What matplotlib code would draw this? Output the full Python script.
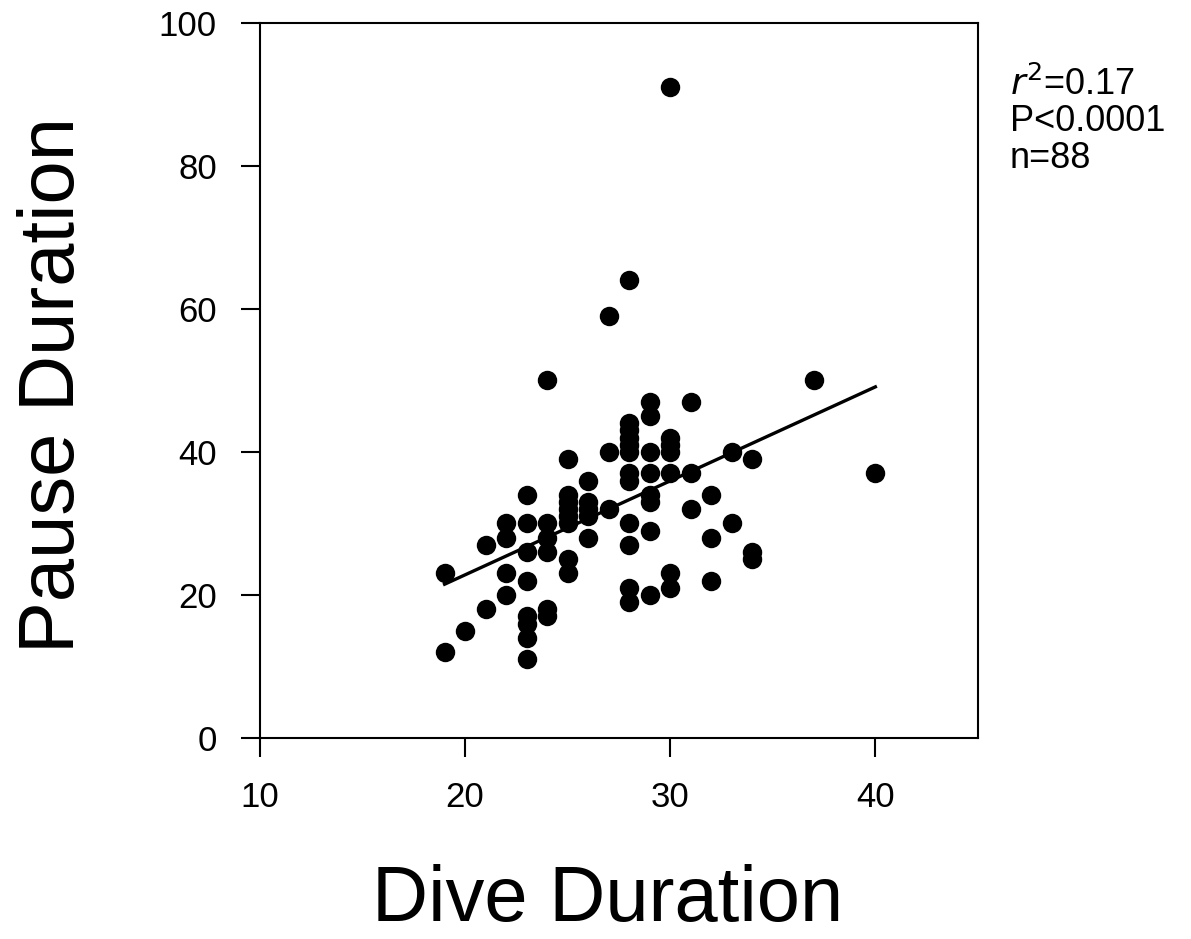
import numpy as np
import matplotlib
matplotlib.use("Agg")
import matplotlib.pyplot as plt

plt.rcParams['font.family'] = ['Liberation Sans', 'DejaVu Sans']

# dive duration (x) and pause duration (y)
dive = [19, 19, 20, 21, 21,
        22, 22, 22, 22,
        23, 23, 23, 23, 23, 23, 23, 23,
        24, 24, 24, 24, 24, 24,
        25, 25, 25, 25, 25, 25, 25, 25,
        26, 26, 26, 26, 26,
        27, 27, 27,
        28, 28, 28, 28, 28, 28, 28, 28, 28, 28, 28, 28,
        29, 29, 29, 29, 29, 29, 29, 29,
        30, 30, 30, 30, 30, 30, 30,
        31, 31, 31,
        32, 32, 32,
        33, 33,
        34, 34, 34,
        37, 40]
pause = [12, 23, 15, 18, 27,
         30, 28, 23, 20,
         34, 30, 26, 22, 17, 16, 14, 11,
         50, 30, 28, 26, 18, 17,
         39, 34, 33, 32, 31, 30, 25, 23,
         36, 33, 32, 31, 28,
         59, 40, 32,
         64, 44, 43, 42, 41, 40, 37, 36, 30, 27, 21, 19,
         47, 45, 40, 37, 34, 33, 29, 20,
         91, 42, 41, 40, 37, 23, 21,
         47, 37, 32,
         34, 28, 22,
         40, 30,
         39, 26, 25,
         50, 37]

# regression line end points
fit_x = [19, 40]
fit_y = [21.5, 49.1]

stats = ["$\\mathit{r}^2$=0.17", "P<0.0001", "n=88"]

fig = plt.figure(figsize=(11.91, 9.39), dpi=100)
ax = fig.add_axes([0.2183, 0.2141, 0.6028, 0.7615])

ax.plot(dive, pause, 'o', color='black', markersize=14, markeredgewidth=0)
ax.plot(fit_x, fit_y, color='black', linewidth=2.4)

ax.set_xlim(10, 45)
ax.set_ylim(0, 100)
ax.set_xticks([10, 20, 30, 40])
ax.set_yticks([0, 20, 40, 60, 80, 100])
ax.tick_params(axis='both', direction='out', length=14, width=1.5,
               labelsize=25, pad=17, top=False, right=False)
for s in ax.spines.values():
    s.set_linewidth(1.5)

fig.text(0.510, 0.0195, "Dive Duration", fontsize=56,
         ha='center', va='baseline')
fig.text(0.062, 0.590, "Pause Duration", fontsize=56, rotation=90,
         rotation_mode='anchor', ha='center', va='baseline')

fig.text(0.848, 1 - 95 / 939, stats[0], fontsize=26, va='baseline')
fig.text(0.848, 1 - 131 / 939, stats[1], fontsize=26, va='baseline')
fig.text(0.848, 1 - 168 / 939, stats[2], fontsize=26, va='baseline')

fig.savefig("out.png", dpi=100)
